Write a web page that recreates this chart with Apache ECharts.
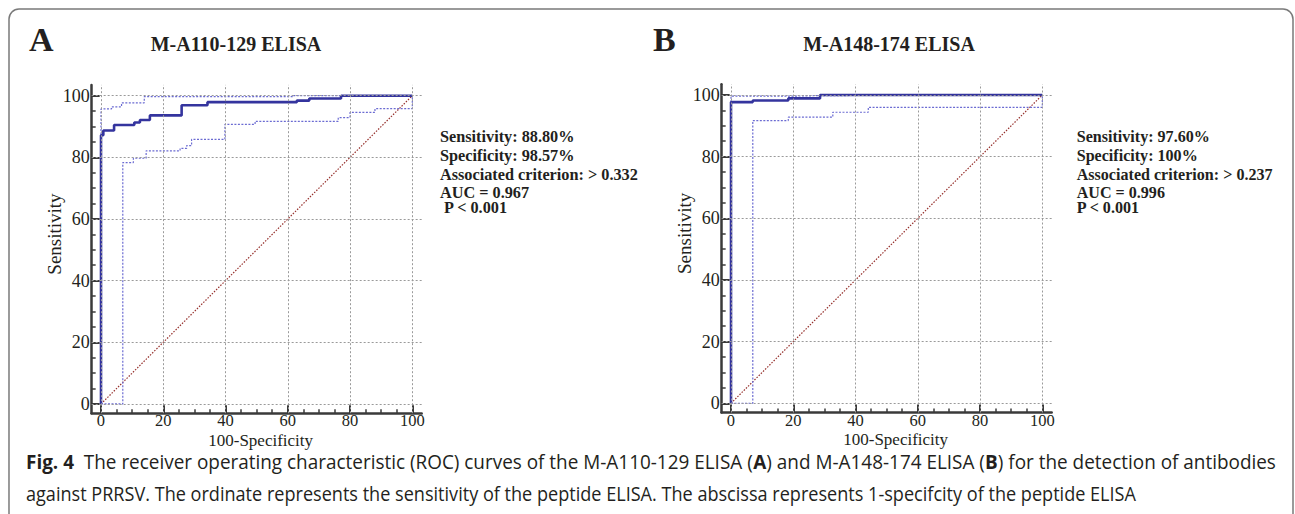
<!DOCTYPE html>
<html><head><meta charset="utf-8">
<script src="https://cdn.jsdelivr.net/npm/echarts@6/dist/echarts.min.js"></script>
<style>html,body{margin:0;padding:0;background:#fff;overflow:hidden}#c{width:1295px;height:514px}</style>
</head><body><div id="c"></div>
<script>
// ---- data ----
const majorTicks = [0, 20, 40, 60, 80, 100];
const minorTicks = [0, 5, 10, 15, 20, 25, 30, 35, 40, 45, 50, 55, 60, 65, 70, 75, 80, 85, 90, 95, 100];
const diagonal = [[0, 0], [100, 100]];

const rocA = [[0,0],[0,87.2],[0.75,88.7],[4.2,90.5],[10.7,91.3],[12.5,92.1],[15.7,93.6],[25.9,96.9],[34.2,97.9],[62.9,98.4],[66.9,99.1],[77.1,100],[100,100]];
const upperA = [[0,0],[0,95.7],[3.4,96.4],[6.6,97.7],[13.9,99.7],[61.7,100],[100,100]];
const lowerA = [[0,0],[7.0,78.3],[10.4,79.7],[14.5,82.1],[25.4,82.9],[27.5,83.8],[29.1,85.8],[39.8,90.7],[49.5,91.7],[76.2,92.9],[80.0,94.6],[88.0,95.8],[100,100]];

const rocB = [[0,0],[0,97.7],[7.0,98.2],[18.4,98.9],[28.6,100],[100,100]];
const upperB = [[0,0],[0,99.6],[18.4,99.8],[28.6,100],[100,100]];
const lowerB = [[0,0],[7.0,91.7],[18.4,92.8],[32.7,94.4],[44.1,96.0],[100,100]];

const panelLetters = ['A', 'B'];
const panelTitles = ['M-A110-129 ELISA', 'M-A148-174 ELISA'];
const statsA = ['Sensitivity: 88.80%', 'Specificity: 98.57%', 'Associated criterion: > 0.332', 'AUC = 0.967', ' P < 0.001'];
const statsB = ['Sensitivity: 97.60%', 'Specificity: 100%', 'Associated criterion: > 0.237', 'AUC = 0.996', 'P < 0.001'];
const xName = '100-Specificity';
const yName = 'Sensitivity';
const captionLine1 = [['Fig. 4', true], ['  The receiver operating characteristic (ROC) curves of the M-A110-129 ELISA (', false], ['A', true], [') and M-A148-174 ELISA (', false], ['B', true], [') for the detection of antibodies', false]];
const captionLine2 = [['against PRRSV. The ordinate represents the sensitivity of the peptide ELISA. The abscissa represents 1-specifcity of the peptide ELISA', false]];

// ---- styles ----
const SERIF = 'Liberation Serif';
const SANS = 'Open Sans';
const AXIS_COLOR = '#3a3a3a';
const TEXT_COLOR = '#231f20';
const ROC_COLOR = '#34349e';
const CI_COLOR = '#6b6bd2';
const DIAG_COLOR = '#96302c';
const GRID_COLOR = '#9a9a9a';

const ctx = document.createElement('canvas').getContext('2d');
function measure(segs, size, family) {
  let t = 0;
  for (const [s, b] of segs) { ctx.font = (b ? 'bold ' : '') + size + 'px "' + family + '"'; t += ctx.measureText(s).width; }
  return t;
}

const panels = [
  { left: 91.66, top: 84.9, letterX: 29, titleX: 236, statsX: 440, nameShift: 8, roc: rocA, upper: upperA, lower: lowerA, stats: statsA, statsW: 198 },
  { left: 721.66, top: 84.2, letterX: 653, titleX: 889, statsX: 1076.7, nameShift: 18, roc: rocB, upper: upperB, lower: lowerB, stats: statsB, statsW: 196 }
];

const grids = [], xAxes = [], yAxes = [], series = [], graphics = [];
panels.forEach((p, i) => {
  grids.push({ left: p.left, top: p.top, width: 330, height: 328.3, containLabel: false });
  const common = { gridIndex: i, type: 'value', splitLine: { show: false }, animation: false };
  xAxes.push(Object.assign({}, common, {
    min: -3, max: 103, position: 'bottom',
    axisLine: { show: true, onZero: false, lineStyle: { color: AXIS_COLOR, width: 2.5 } },
    axisTick: { show: true, inside: true, length: 8, customValues: majorTicks, lineStyle: { color: AXIS_COLOR, width: 2 } },
    axisLabel: { show: true, customValues: majorTicks, margin: 0.7, fontFamily: SERIF, fontSize: 16.5, lineHeight: 14, color: TEXT_COLOR },
    name: xName, nameLocation: 'middle', nameGap: 19.2, nameMoveOverlap: false,
    nameTextStyle: { fontFamily: SERIF, fontSize: 17, lineHeight: 16, color: TEXT_COLOR, padding: [0, 0, 0, p.nameShift] }
  }));
  xAxes.push(Object.assign({}, common, {
    min: -3, max: 103, position: 'bottom',
    axisLine: { show: false, onZero: false },
    axisTick: { show: true, inside: true, length: 4, customValues: minorTicks, lineStyle: { color: AXIS_COLOR, width: 1.5 } },
    axisLabel: { show: false }
  }));
  yAxes.push(Object.assign({}, common, {
    min: -3, max: 103.5, position: 'left',
    axisLine: { show: true, onZero: false, lineStyle: { color: AXIS_COLOR, width: 2.5 } },
    axisTick: { show: true, inside: true, length: 8, customValues: majorTicks, lineStyle: { color: AXIS_COLOR, width: 2 } },
    axisLabel: { show: true, customValues: majorTicks, margin: 2, fontFamily: SERIF, fontSize: 18, color: TEXT_COLOR },
    name: yName, nameLocation: 'middle', nameGap: 28, nameRotate: 90, nameMoveOverlap: false,
    nameTextStyle: { fontFamily: SERIF, fontSize: 19, color: TEXT_COLOR, padding: [0, 0, 0, 30] }
  }));
  yAxes.push(Object.assign({}, common, {
    min: -3, max: 103.5, position: 'left',
    axisLine: { show: false, onZero: false },
    axisTick: { show: true, inside: true, length: 4, customValues: minorTicks, lineStyle: { color: AXIS_COLOR, width: 1.5 } },
    axisLabel: { show: false }
  }));
  const xi = i * 2, yi = i * 2;
  const gridLines = majorTicks.map(v => ({ xAxis: v })).concat(majorTicks.map(v => ({ yAxis: v })));
  series.push({
    type: 'line', xAxisIndex: xi, yAxisIndex: yi, data: diagonal, showSymbol: false, silent: true, animation: false,
    lineStyle: { color: DIAG_COLOR, width: 1.2, type: [1.5, 1.5] }, z: 2,
    markLine: { silent: true, animation: false, symbol: 'none', label: { show: false },
      lineStyle: { color: GRID_COLOR, width: 1, type: [2, 2] }, data: gridLines }
  });
  series.push({ type: 'line', xAxisIndex: xi, yAxisIndex: yi, data: p.upper, step: 'end', showSymbol: false, silent: true, animation: false,
    lineStyle: { color: CI_COLOR, width: 1.2, type: [2, 1.5] }, z: 3 });
  series.push({ type: 'line', xAxisIndex: xi, yAxisIndex: yi, data: p.lower, step: 'end', showSymbol: false, silent: true, animation: false,
    lineStyle: { color: CI_COLOR, width: 1.2, type: [2, 1.5] }, z: 3 });
  series.push({ type: 'line', xAxisIndex: xi, yAxisIndex: yi, data: p.roc, step: 'end', showSymbol: false, silent: true, animation: false,
    lineStyle: { color: ROC_COLOR, width: 2.6 }, z: 4 });

  // panel letter & title
  graphics.push({ type: 'text', x: p.letterX, y: 39, style: { text: panelLetters[i], fontFamily: SERIF, fontWeight: 'bold', fontSize: 34, fill: TEXT_COLOR, align: 'left', verticalAlign: 'middle', textAlign: 'left', textVerticalAlign: 'middle' } });
  graphics.push({ type: 'text', x: p.titleX, y: 43.6, style: { text: panelTitles[i], fontFamily: SERIF, fontWeight: 'bold', fontSize: 20, fill: TEXT_COLOR, align: 'center', verticalAlign: 'middle', textAlign: 'center', textVerticalAlign: 'middle' } });
  // stats
  const sx = p.statsW / measure([[p.stats[2], true]], 17.5, SERIF);
  const baseY = [136.5, 155.5, 174.5, 192.5, 207.5];
  p.stats.forEach((s, k) => {
    graphics.push({ type: 'text', x: p.statsX, y: baseY[k], scaleX: sx, style: { text: s, fontFamily: SERIF, fontWeight: 'bold', fontSize: 17.5, lineHeight: 15, fill: TEXT_COLOR, align: 'left', verticalAlign: 'middle', textAlign: 'left', textVerticalAlign: 'middle' } });
  });
});

// caption
function richOf(segs) { return segs.map(([s, b]) => b ? '{b|' + s + '}' : '{r|' + s + '}').join(''); }
const capSize = 19.5;
const capTargets = [1250, 1111];
const rich = { b: { fontFamily: SANS, fontWeight: 'bold', fontSize: capSize, lineHeight: 20, fill: TEXT_COLOR, color: TEXT_COLOR }, r: { fontFamily: SANS, fontSize: capSize, lineHeight: 20, fill: TEXT_COLOR, color: TEXT_COLOR } };
[captionLine1, captionLine2].forEach((segs, k) => {
  const sc = capTargets[k] / measure(segs, capSize, SANS);
  graphics.push({ type: 'text', x: 26, y: [461.5, 494][k], scaleX: sc, style: { text: richOf(segs), rich: rich, fontFamily: SANS, fontSize: capSize, lineHeight: 20, fill: TEXT_COLOR, align: 'left', verticalAlign: 'middle', textAlign: 'left', textVerticalAlign: 'middle' } });
});
// frame
graphics.push({ type: 'rect', shape: { x: 9, y: 9, width: 1284, height: 620, r: 10 }, style: { fill: 'none', stroke: '#7a7a7a', lineWidth: 1.5 }, silent: true, z: -1 });

const chart = echarts.init(document.getElementById('c'), null, { renderer: 'svg', width: 1295, height: 514 });
chart.setOption({ animation: false, backgroundColor: '#fff', grid: grids, xAxis: xAxes, yAxis: yAxes, series: series, graphic: { elements: graphics } });
</script></body></html>
